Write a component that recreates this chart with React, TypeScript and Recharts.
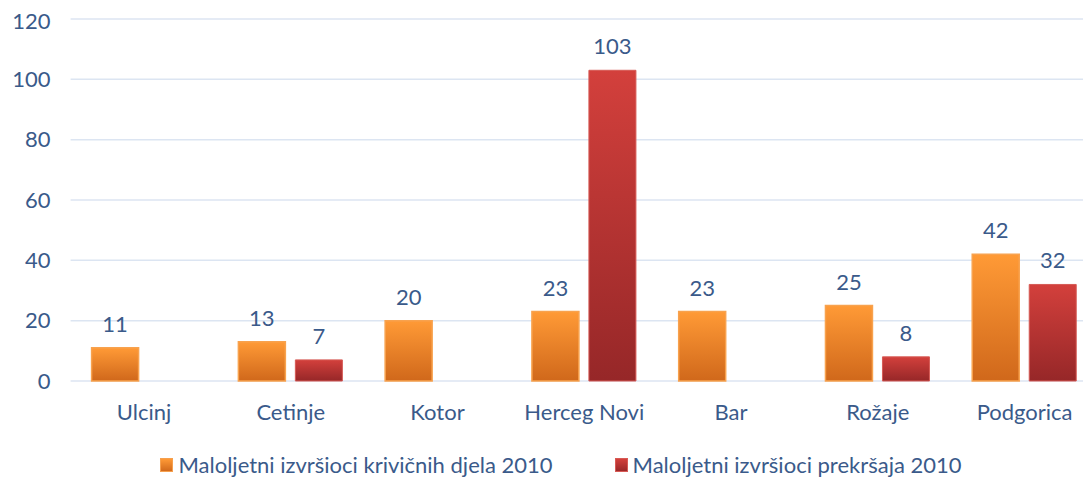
import { BarChart, Bar, XAxis, YAxis, CartesianGrid, Legend, LabelList } from 'recharts';

const cities = ['Ulcinj', 'Cetinje', 'Kotor', 'Herceg Novi', 'Bar', 'Rožaje', 'Podgorica'];
const krivicnaDjela = [11, 13, 20, 23, 23, 25, 42];
const prekrsaji = [null, 7, null, 103, null, 8, 32];
const yTicks = [0, 20, 40, 60, 80, 100, 120];

const seriesNames = ['Maloljetni izvršioci krivičnih djela 2010', 'Maloljetni izvršioci prekršaja 2010'];

const data = cities.map((c, i) => ({ c, a: krivicnaDjela[i], b: prekrsaji[i] }));

const TXT = '#3A5A8A';
const FONT = 'Lato, "Open Sans", sans-serif';

// legenda ručno, da razmak među stavkama bude kao u Excelu
function LegendBox() {
  const items = [
    { name: seriesNames[0], bg: 'linear-gradient(#FF9A36, #D26A1C)', border: '#F6A04E' },
    { name: seriesNames[1], bg: 'linear-gradient(#D3403C, #9A2829)', border: '#D85A55' },
  ];
  return (
    <div style={{ display: 'flex', justifyContent: 'center', gap: 62, paddingLeft: 16, fontFamily: FONT, fontSize: 22, color: TXT }}>
      {items.map((it) => (
        <div key={it.name} style={{ display: 'flex', alignItems: 'center' }}>
          <span style={{ width: 11, height: 12, background: it.bg, border: `1px solid ${it.border}`, marginRight: 5, display: 'inline-block' }} />
          <span>{it.name}</span>
        </div>
      ))}
    </div>
  );
}

export default function App() {
  return (
    <div style={{ width: 1083, height: 470, overflow: 'hidden', background: '#fff' }}>
      <BarChart
        width={1100}
        height={470}
        data={data}
        margin={{ top: 11, right: 10, left: 0, bottom: 0 }}
        barGap={10}
        barSize={47}
      >
        <defs>
          <linearGradient id="gOr" x1="0" y1="0" x2="0" y2="1">
            <stop offset="0%" stopColor="#FF9A36" />
            <stop offset="100%" stopColor="#D0681B" />
          </linearGradient>
          <linearGradient id="gRd" x1="0" y1="0" x2="0" y2="1">
            <stop offset="0%" stopColor="#D3403C" />
            <stop offset="100%" stopColor="#962728" />
          </linearGradient>
        </defs>
        <CartesianGrid vertical={false} stroke="#DCE5F2" strokeWidth={1.5} />
        <XAxis
          dataKey="c"
          axisLine={false}
          tickLine={false}
          tickMargin={17}
          height={70}
          tick={{ fill: TXT, fontSize: 22, fontFamily: FONT }}
        />
        <YAxis
          domain={[0, 120]}
          ticks={yTicks}
          width={62.6}
          axisLine={false}
          tickLine={false}
          tickMargin={14}
          tick={{ fill: TXT, fontSize: 22, fontFamily: FONT }}
        />
        <Legend verticalAlign="bottom" content={<LegendBox />} />
        <Bar dataKey="a" name={seriesNames[0]} fill="url(#gOr)" stroke="#F8A24E" strokeWidth={1.5} isAnimationActive={false}>
          <LabelList dataKey="a" position="top" offset={16} fill={TXT} fontSize={22} fontFamily={FONT} />
        </Bar>
        <Bar dataKey="b" name={seriesNames[1]} fill="url(#gRd)" stroke="#D65A55" strokeWidth={1} isAnimationActive={false}>
          <LabelList
            dataKey="b"
            position="top"
            offset={16}
            fill={TXT}
            fontSize={22}
            fontFamily={FONT}
            formatter={(v: any) => (v == null ? '' : v)}
          />
        </Bar>
      </BarChart>
    </div>
  );
}
